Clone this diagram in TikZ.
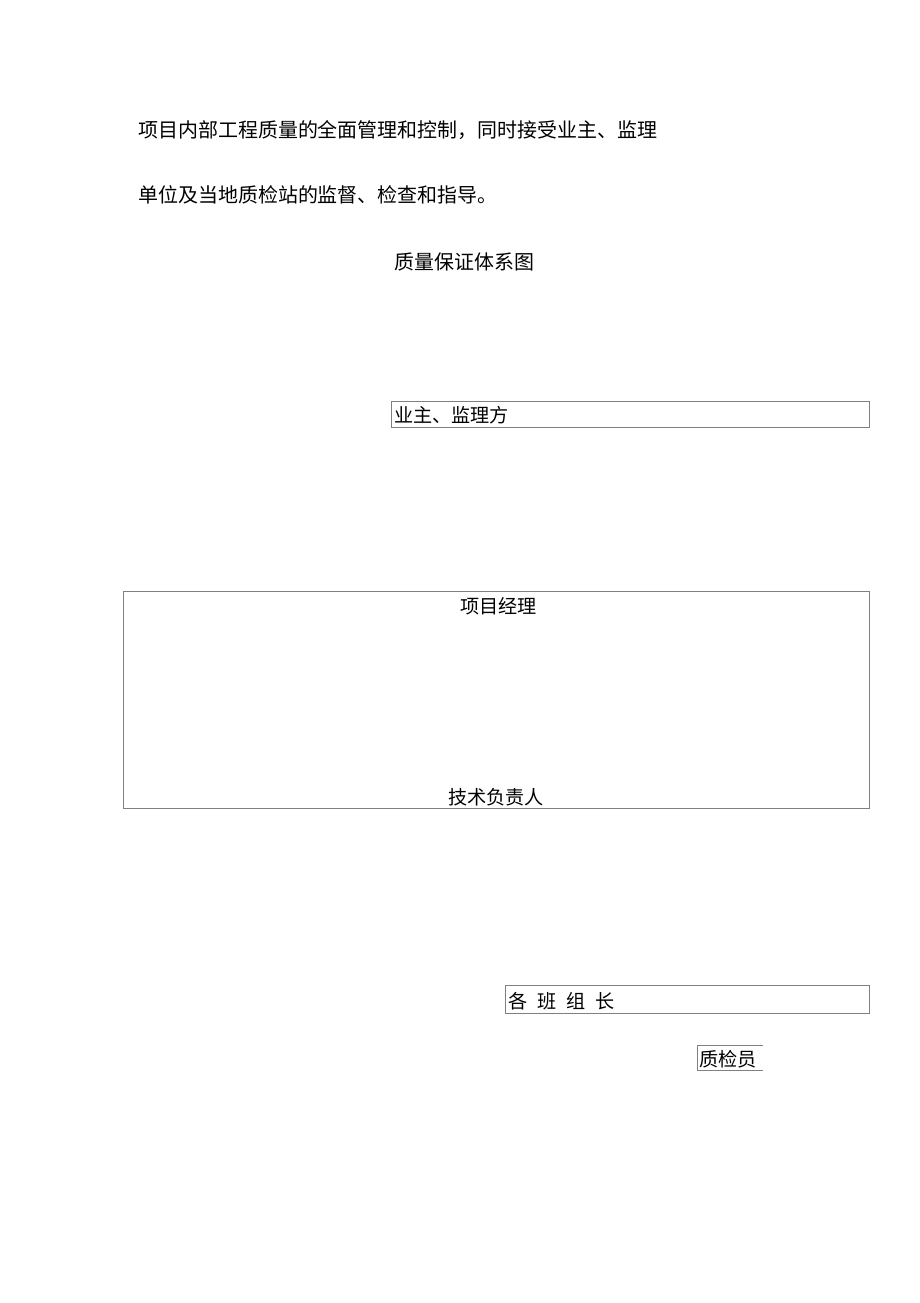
\documentclass[tikz,border=0pt]{standalone}
\usepackage{fontspec}
\setmainfont{Noto Sans CJK SC}
\usetikzlibrary{positioning}

\begin{document}
\begin{tikzpicture}[x=0.025cm, y=-0.025cm,
    body/.style={inner sep=0pt, anchor=base west, font=\fontsize{14.2pt}{17pt}\selectfont},
    label/.style={inner sep=0pt, anchor=base west, font=\fontsize{13.6pt}{16pt}\selectfont},
    box/.style={draw=gray, line width=0.6pt, inner sep=0pt, anchor=north west}]
    \useasboundingbox[fill=white] (0,0) rectangle (920,1303);

    % text above the chart
    \node[body] (line1) at (138,137) {项目内部工程质量的全面管理和控制，同时接受业主、监理};
    \node[body] (line2) at (138,202) {单位及当地质检站的监督、检查和指导。};
    \node[body] (title) at (394,269) {质量保证体系图};

    % boxes
    \node[box, minimum width=11.95cm, minimum height=0.65cm] (owner) at (391,401) {};
    \node[box, minimum width=18.65cm, minimum height=5.425cm] (pm) at (123,591) {};
    \node[box, minimum width=9.1cm, minimum height=0.7cm] (team) at (505,985) {};
    \draw[gray, line width=0.6pt] (763,1045) -| (697,1070) -- (763,1070);

    % labels
    \node[label] (ownerlbl) at (394,422) {业主、监理方};
    \node[label] (pmlbl) at (460,613) {项目经理};
    \node[label] (techlbl) at (448,804) {技术负责人};
    \node[label] (teamlbl) at (508,1008) {各\hspace{0.25cm}班\hspace{0.25cm}组\hspace{0.25cm}长};
    \node[label] (qclbl) at (699,1066) {质检员};
\end{tikzpicture}
\end{document}
